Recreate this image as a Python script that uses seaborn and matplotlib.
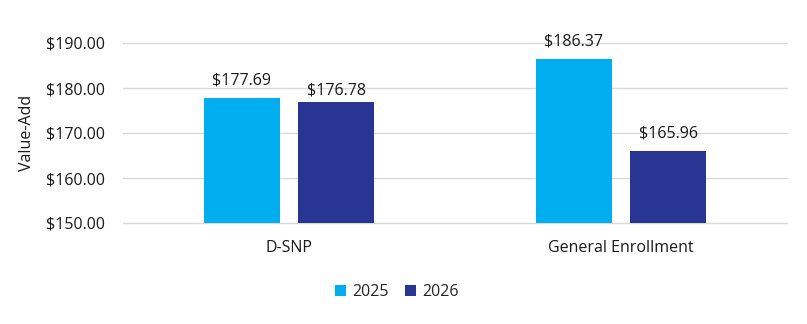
import matplotlib
matplotlib.use("Agg")
import matplotlib.pyplot as plt
import seaborn as sns
import pandas as pd

categories = ["D-SNP", "General Enrollment"]
years = ["2025", "2026"]
values_2025 = [177.69, 186.37]
values_2026 = [176.78, 165.96]
colors = ["#00AEEF", "#283592"]

df = pd.DataFrame({
    "Category": categories * 2,
    "Year": [years[0]] * 2 + [years[1]] * 2,
    "Value": values_2025 + values_2026,
})

sns.set_theme(style="white")
plt.rcParams["font.family"] = ["Open Sans", "DejaVu Sans"]
FS = 11.5
TC = "#1a1a1a"

fig = plt.figure(figsize=(8.07, 3.24), dpi=100)
ax = fig.add_axes([123 / 807, 1 - 223 / 324, (787 - 123) / 807, (223 - 43) / 324])

sns.barplot(data=df, x="Category", y="Value", hue="Year", palette=colors,
            width=0.567, gap=0.2, ax=ax, saturation=1, legend=True, linewidth=0)

ax.set_ylim(150, 190)
ax.set_xlim(-0.5, 1.5)
ax.set_yticks([150, 160, 170, 180, 190])
ax.set_yticklabels([f"${v:.2f}" for v in [150, 160, 170, 180, 190]], fontsize=FS, color=TC)
ax.tick_params(axis="x", labelsize=FS, colors=TC, length=0, pad=12)
ax.tick_params(axis="y", length=0, pad=13)
ax.set_xlabel("")
ax.set_ylabel("Value-Add", fontsize=FS, color=TC, labelpad=8)
ax.yaxis.grid(True, color="#d9d9d9", linewidth=1)
for gl in ax.yaxis.get_gridlines():
    gl.set_clip_on(False)
ax.set_axisbelow(True)
for s in ax.spines.values():
    s.set_visible(False)

# per-series label padding (points)
pads = [[7, 7], [3, 7]]
for ci, cont in enumerate(ax.containers):
    for bi, bar in enumerate(cont):
        v = cont.datavalues[bi]
        t = ax.annotate(f"${v:.2f}", (bar.get_x() + bar.get_width() / 2, bar.get_height()),
                        xytext=(0, pads[ci][bi]), textcoords="offset points",
                        ha="center", va="bottom", fontsize=FS, color=TC)
        t.set_clip_on(False)

leg = ax.legend(loc="upper center", bbox_to_anchor=(0.412, -0.26), ncol=2, frameon=False,
                fontsize=FS, handlelength=0.7, handleheight=0.7, handletextpad=0.4,
                columnspacing=1.0)

fig.savefig("out.png", dpi=100)
